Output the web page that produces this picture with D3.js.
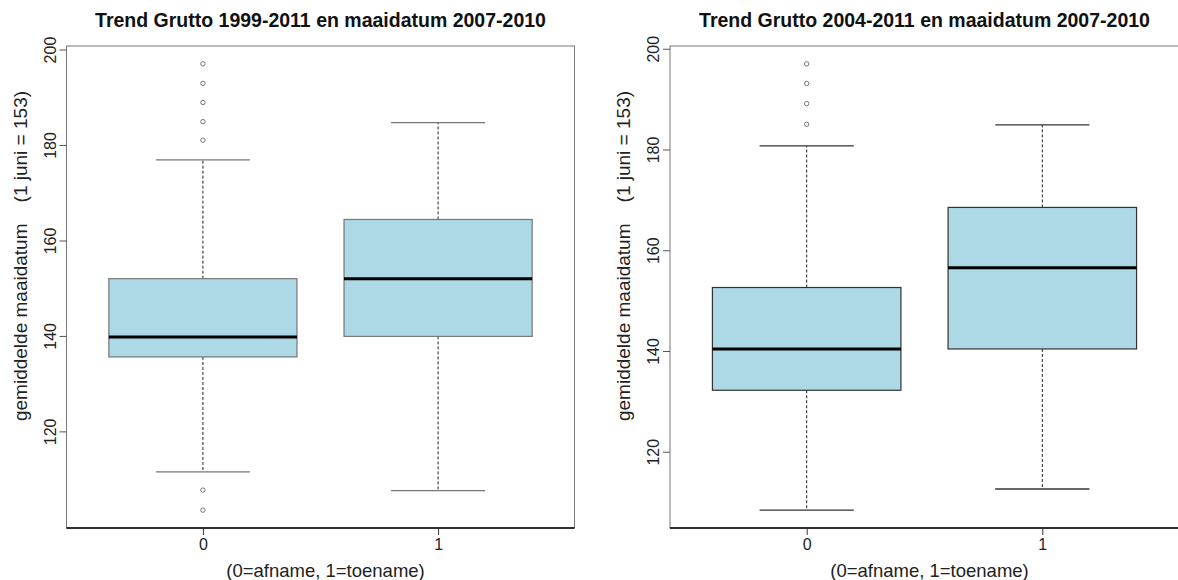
<!DOCTYPE html>
<html>
<head>
<meta charset="utf-8">
<script src="https://cdn.jsdelivr.net/npm/d3@7"></script>
<style>
  body { margin: 0; background: #fff; }
  svg { display: block; font-family: "Liberation Sans", Arial, sans-serif; }
</style>
</head>
<body>
<div id="chart"></div>
<script>
// groups on the x axis
const groups = ["0", "1"];
const yTicks = [120, 140, 160, 180, 200];

// left panel: 1999-2011
const leftTitle = "Trend Grutto 1999-2011 en maaidatum 2007-2010";
const leftLow  = [111.5, 107.6];
const leftQ1   = [135.6, 139.9];
const leftMed  = [139.8, 152.0];
const leftQ3   = [152.0, 164.4];
const leftHigh = [176.9, 184.7];
const leftOut  = [[197.0, 192.9, 188.9, 184.9, 181.0, 107.7, 103.5], []];

// right panel: 2004-2011
const rightTitle = "Trend Grutto 2004-2011 en maaidatum 2007-2010";
const rightLow  = [108.4, 112.6];
const rightQ1   = [132.2, 140.4];
const rightMed  = [140.4, 156.5];
const rightQ3   = [152.6, 168.5];
const rightHigh = [180.7, 184.9];
const rightOut  = [[197.0, 193.1, 189.1, 185.0], []];

const yLabel = "gemiddelde maaidatum    (1 juni = 153)";
const xLabel = "(0=afname, 1=toename)";

const W = 1178, H = 580;
const plotTop = 46, plotBottom = 528;

const svg = d3.select("#chart").append("svg")
    .attr("width", W)
    .attr("height", H);

function panel(left, width, title, low, q1, med, q3, high, out, edge) {
  const g = svg.append("g");

  // R style: pad the data range by 4% on each side
  const all = low.concat(high, d3.merge(out));
  const lo = d3.min(all), hi = d3.max(all), pad = (hi - lo) * 0.04;
  const y = d3.scaleLinear().domain([lo - pad, hi + pad]).range([plotBottom, plotTop]);
  const x = d3.scaleLinear().domain([0.42, groups.length + 0.58]).range([left, left + width]);
  const bw = (x(2) - x(1)) * 0.8;

  const data = groups.map(function(k, i) {
    return {k: k, i: i + 1, low: low[i], q1: q1[i], med: med[i], q3: q3[i], high: high[i], out: out[i]};
  });

  const box = g.selectAll(".box").data(data).enter().append("g").attr("class", "box");

  // whiskers
  box.append("line")
      .attr("x1", d => x(d.i)).attr("x2", d => x(d.i))
      .attr("y1", d => y(d.q3)).attr("y2", d => y(d.high))
      .attr("stroke", "#222").attr("stroke-width", 1).attr("stroke-dasharray", "3,2");
  box.append("line")
      .attr("x1", d => x(d.i)).attr("x2", d => x(d.i))
      .attr("y1", d => y(d.q1)).attr("y2", d => y(d.low))
      .attr("stroke", "#222").attr("stroke-width", 1).attr("stroke-dasharray", "3,2");
  // staples
  ["low", "high"].forEach(function(key) {
    box.append("line")
        .attr("x1", d => x(d.i) - bw / 4).attr("x2", d => x(d.i) + bw / 4)
        .attr("y1", d => y(d[key])).attr("y2", d => y(d[key]))
        .attr("stroke", edge).attr("stroke-width", 1.3);
  });

  box.append("rect")
      .attr("x", d => x(d.i) - bw / 2)
      .attr("width", bw)
      .attr("y", d => y(d.q3))
      .attr("height", d => y(d.q1) - y(d.q3))
      .attr("fill", "#add8e6")
      .attr("stroke", edge).attr("stroke-width", 1.2);

  box.append("line")
      .attr("x1", d => x(d.i) - bw / 2).attr("x2", d => x(d.i) + bw / 2)
      .attr("y1", d => y(d.med)).attr("y2", d => y(d.med))
      .attr("stroke", "#000").attr("stroke-width", 3);

  box.selectAll("circle").data(d => d.out.map(v => ({i: d.i, v: v}))).enter()
    .append("circle")
      .attr("cx", d => x(d.i)).attr("cy", d => y(d.v))
      .attr("r", 2.2)
      .attr("fill", "none").attr("stroke", "#666").attr("stroke-width", 0.9);

  // frame
  g.append("rect")
      .attr("x", left).attr("y", plotTop)
      .attr("width", width).attr("height", plotBottom - plotTop)
      .attr("fill", "none").attr("stroke", "#777").attr("stroke-width", 1);
  g.append("line")
      .attr("x1", left).attr("x2", left + width)
      .attr("y1", plotBottom).attr("y2", plotBottom)
      .attr("stroke", "#000").attr("stroke-width", 1.5);

  // y axis, labels turned like R's default
  const ya = g.append("g").attr("transform", "translate(" + left + ",0)")
      .call(d3.axisLeft(y).tickValues(yTicks).tickSize(7).tickFormat(d3.format("d")));
  ya.select(".domain").remove();
  ya.selectAll("line").attr("stroke", "#555");
  ya.selectAll("text")
      .attr("x", 0).attr("dy", 0)
      .attr("transform", "translate(-11,0) rotate(-90)")
      .attr("text-anchor", "middle")
      .attr("font-size", 16).attr("fill", "#222")
      .style("font-family", "Liberation Sans, Arial, sans-serif");

  const xa = g.append("g").attr("transform", "translate(0," + plotBottom + ")")
      .call(d3.axisBottom(x).tickValues(data.map(d => d.i)).tickSize(7).tickFormat((d, i) => groups[i]));
  xa.select(".domain").remove();
  xa.selectAll("line").attr("stroke", "#333");
  xa.selectAll("text")
      .attr("y", 11)
      .attr("font-size", 16).attr("fill", "#222")
      .style("font-family", "Liberation Sans, Arial, sans-serif");

  const cx = left + width / 2;
  g.append("text")
      .attr("x", cx).attr("y", 27)
      .attr("text-anchor", "middle")
      .attr("font-weight", "bold").attr("font-size", 19.5).attr("fill", "#111")
      .text(title);

  g.append("text")
      .attr("x", cx + 5).attr("y", 577)
      .attr("text-anchor", "middle")
      .attr("font-size", 18.5).attr("fill", "#222")
      .text(xLabel);

  g.append("text")
      .attr("transform", "translate(" + (left - 40) + ",256) rotate(-90)")
      .attr("text-anchor", "middle")
      .attr("font-size", 19).attr("fill", "#222")
      .style("white-space", "pre")
      .text(yLabel);
}

panel(66.5, 508, leftTitle, leftLow, leftQ1, leftMed, leftQ3, leftHigh, leftOut, "#777");
panel(670, 509, rightTitle, rightLow, rightQ1, rightMed, rightQ3, rightHigh, rightOut, "#333");
</script>
</body>
</html>
